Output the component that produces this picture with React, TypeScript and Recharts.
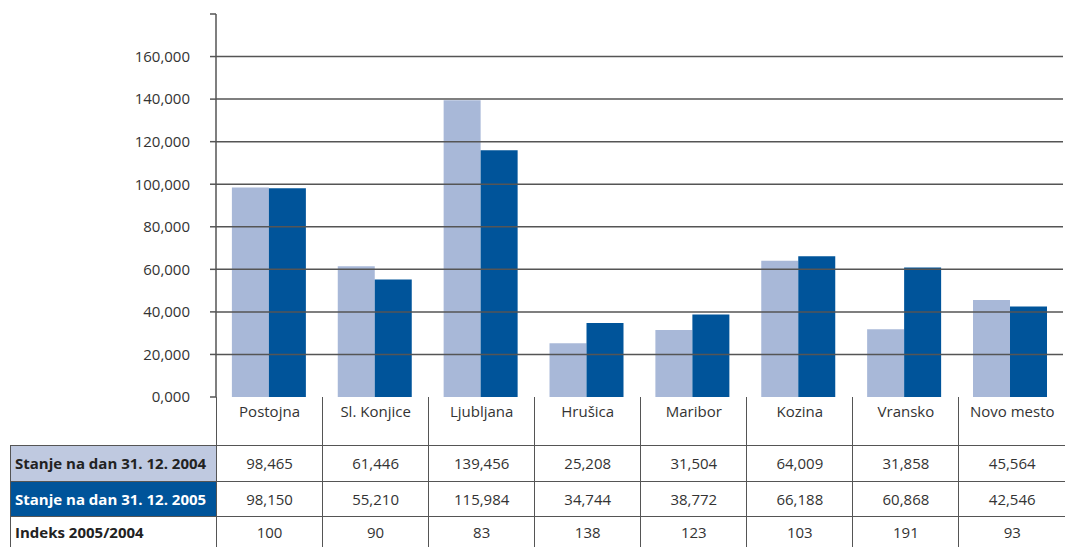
import { BarChart, Bar, XAxis, YAxis, ReferenceLine } from 'recharts';

const locations = ['Postojna', 'Sl. Konjice', 'Ljubljana', 'Hrušica', 'Maribor', 'Kozina', 'Vransko', 'Novo mesto'];
const stanje2004 = [98.465, 61.446, 139.456, 25.208, 31.504, 64.009, 31.858, 45.564];
const stanje2005 = [98.15, 55.21, 115.984, 34.744, 38.772, 66.188, 60.868, 42.546];
const indeks = [100, 90, 83, 138, 123, 103, 191, 93];
const yTicks = [0, 20, 40, 60, 80, 100, 120, 140, 160, 180];
const gridLines = [20, 40, 60, 80, 100, 120, 140, 160];

const label2004 = 'Stanje na dan 31. 12. 2004';
const label2005 = 'Stanje na dan 31. 12. 2005';
const labelIndex = 'Indeks 2005/2004';

const LIGHT = '#a8b8d8';
const DARK = '#00549a';
const LINE = '#555';
const FONT = '"Open Sans", sans-serif';

const data = locations.map((name, i) => ({ name, y2004: stanje2004[i], y2005: stanje2005[i] }));

const fmt = (v: number) => v.toFixed(3).replace('.', ',');

const cell: React.CSSProperties = {
  borderLeft: `1px solid ${LINE}`,
  borderBottom: `1px solid ${LINE}`,
  textAlign: 'center',
  padding: 0,
  color: '#333',
};

export default function App() {
  return (
    <div style={{ position: 'fixed', left: 0, top: 0, width: 1065, height: 547, background: '#fff', fontFamily: FONT, overflow: 'hidden' }}>
      <BarChart
        width={1065}
        height={547}
        data={data}
        margin={{ top: 14, right: 2, bottom: 150, left: 0 }}
        barCategoryGap="15%"
        barGap={0}
      >
        <XAxis dataKey="name" tick={false} height={0} axisLine={{ stroke: LINE, strokeWidth: 1.5 }} tickLine={false} />
        <YAxis
          width={216}
          domain={[0, 180]}
          ticks={yTicks}
          interval={0}
          tickFormatter={(v: number) => (v === 180 ? '' : fmt(v))}
          axisLine={{ stroke: LINE, strokeWidth: 1.5 }}
          tickLine={{ stroke: LINE, strokeWidth: 1.5 }}
          tickSize={6}
          tickMargin={20}
          tick={{ fill: '#333', fontSize: 15, fontFamily: FONT }}
        />
        {gridLines.map((v) => (
          <ReferenceLine key={v} y={v} stroke={LINE} strokeWidth={1.5} />
        ))}
        <Bar dataKey="y2004" fill={LIGHT} isAnimationActive={false} />
        <Bar dataKey="y2005" fill={DARK} isAnimationActive={false} />
      </BarChart>
      <table
        style={{
          position: 'absolute',
          left: 10,
          top: 397,
          width: 1055,
          borderCollapse: 'collapse',
          tableLayout: 'fixed',
          fontSize: 15,
          fontFamily: FONT,
        }}
      >
        <colgroup>
          <col style={{ width: 206 }} />
          {locations.map((l) => (
            <col key={l} />
          ))}
        </colgroup>
        <tbody>
          <tr style={{ height: 48 }}>
            <td style={{ borderBottom: `1px solid ${LINE}`, padding: 0 }} />
            {locations.map((l) => (
              <td key={l} style={{ ...cell, verticalAlign: 'top', paddingTop: 4 }}>{l}</td>
            ))}
          </tr>
          <tr style={{ height: 36 }}>
            <td style={{ ...cell, background: '#bfc9e0', textAlign: 'left', paddingLeft: 4, fontWeight: 700, color: '#222', borderRight: `1px solid ${LINE}` }}>{label2004}</td>
            {stanje2004.map((v, i) => (
              <td key={i} style={cell}>{fmt(v)}</td>
            ))}
          </tr>
          <tr style={{ height: 35 }}>
            <td style={{ ...cell, background: DARK, textAlign: 'left', paddingLeft: 4, fontWeight: 700, color: '#fff' }}>{label2005}</td>
            {stanje2005.map((v, i) => (
              <td key={i} style={cell}>{fmt(v)}</td>
            ))}
          </tr>
          <tr style={{ height: 31 }}>
            <td style={{ ...cell, borderBottom: 'none', textAlign: 'left', paddingLeft: 4, fontWeight: 700, color: '#222' }}>{labelIndex}</td>
            {indeks.map((v, i) => (
              <td key={i} style={{ ...cell, borderBottom: 'none' }}>{v}</td>
            ))}
          </tr>
        </tbody>
      </table>
    </div>
  );
}
